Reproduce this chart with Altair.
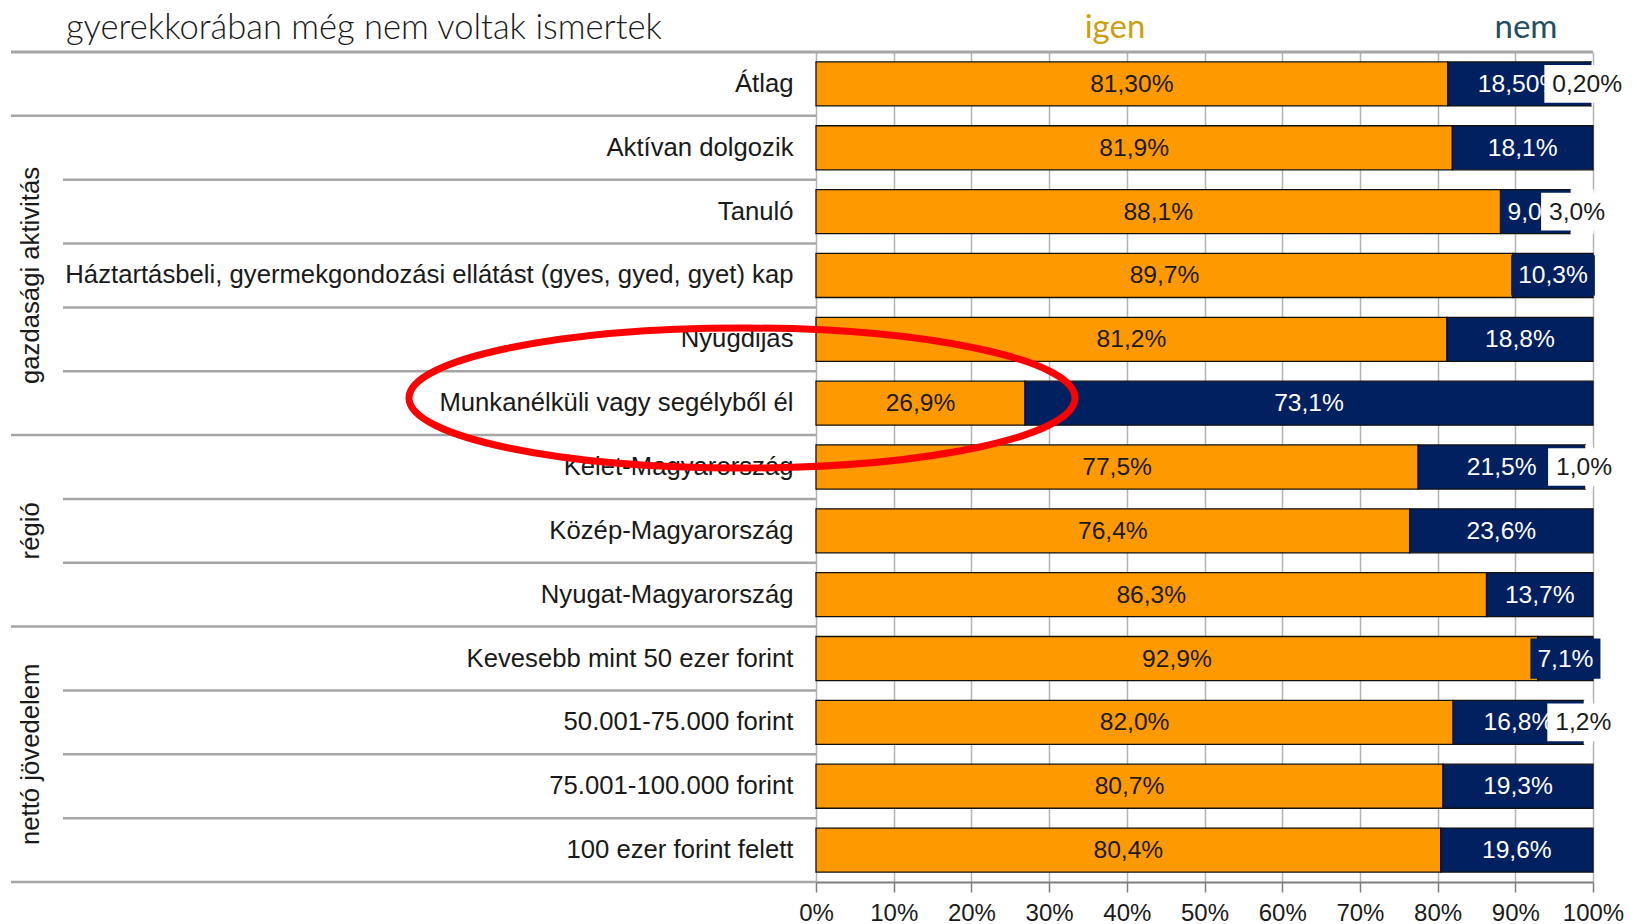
import altair as alt
import pandas as pd

# ---------------- data ----------------
categories = [
    "Átlag",
    "Aktívan dolgozik",
    "Tanuló",
    "Háztartásbeli, gyermekgondozási ellátást (gyes, gyed, gyet) kap",
    "Nyugdijas",
    "Munkanélküli vagy segélyből él",
    "Kelet-Magyarország",
    "Közép-Magyarország",
    "Nyugat-Magyarország",
    "Kevesebb mint 50 ezer forint",
    "50.001-75.000 forint",
    "75.001-100.000 forint",
    "100 ezer forint felett",
]
igen = [81.3, 81.9, 88.1, 89.7, 81.2, 26.9, 77.5, 76.4, 86.3, 92.9, 82.0, 80.7, 80.4]
nem = [18.5, 18.1, 9.0, 10.3, 18.8, 73.1, 21.5, 23.6, 13.7, 7.1, 16.8, 19.3, 19.6]
egyeb = [0.2, 0, 3.0, 0, 0, 0, 1.0, 0, 0, 0, 1.2, 0, 0]
decimals = [2, 1, 1, 1, 1, 1, 1, 1, 1, 1, 1, 1, 1]

group_names = ["gazdasági aktivitás", "régió", "nettó jövedelem"]
group_start = [1, 6, 9]
group_end = [6, 9, 13]
group_bounds = [0, 1, 6, 9, 13]

title_text = "gyerekkorában még nem voltak ismertek"
legend_labels = ["igen", "nem"]
x_ticks = [0, 10, 20, 30, 40, 50, 60, 70, 80, 90, 100]

# ---------------- styles ----------------
W, H = 777, 830
PX = W / 100.0
ORANGE = "#ff9900"
NAVY = "#002060"
GRAY = "#a6a6a6"
TXT = "#1a1a1a"
FONT = "Liberation Sans"
LFS = 24.6      # bar label font size
CFS = 25.7      # category label font size
CW = {**{d: 0.556 for d in "0123456789"}, ",": 0.278, "%": 0.889}


def fmt(v, d):
    return f"{v:.{d}f}".replace(".", ",") + "%"


def text_w(s):
    return sum(CW[c] for c in s) * LFS


rows = []
for i, c in enumerate(categories):
    a, b, e, d = igen[i], nem[i], egyeb[i], decimals[i]
    segs = [("igen", 0.0, a, a), ("nem", a, a + b, b)]
    if e > 0:
        segs.append(("egyeb", a + b, a + b + e, e))
    for s, x0, x1, v in segs:
        lab = fmt(v, d)
        mid = (x0 + x1) / 2
        w = text_w(lab)
        if s == "egyeb":
            tx = mid - 5 / PX
            half = (w / 2 + 8) / PX
        else:
            tx = mid
            half = (w / 2 + 7) / PX
        rows.append(dict(cat=c, seg=s, x0=x0, x1=x1, mid=mid, tx=tx,
                         bx0=tx - half, bx1=tx + half, label=lab))
seg = pd.DataFrame(rows)
main = seg[seg.seg != "egyeb"]
navy_df = seg[seg.seg == "nem"]
orange_df = seg[seg.seg == "igen"]
other_df = seg[seg.seg == "egyeb"]

xsc = alt.Scale(domain=[0, 100], nice=False, zero=False)
ysc = alt.Scale(domain=categories, paddingInner=0, paddingOuter=0)
psc = alt.Scale(domain=[0, 13], reverse=True, nice=False, zero=False)

x_axis = alt.Axis(values=x_ticks, labelExpr="datum.value + '%'", title=None,
                  grid=True, gridColor="#b4b4b4", gridWidth=1.5,
                  domain=True, domainColor="#7f7f7f", domainWidth=2,
                  ticks=True, tickColor="#7f7f7f", tickSize=10, tickWidth=1.5,
                  labelFontSize=24, labelFont=FONT, labelColor=TXT,
                  labelPadding=9, labelFlush=False, labelOverlap=False)
y_axis = alt.Axis(title=None, ticks=False, domain=False, labelFontSize=CFS,
                  labelFont=FONT, labelColor=TXT, labelPadding=23,
                  labelLimit=900)


def X(field, axis=None):
    if axis is None:
        return alt.X(field, scale=xsc, title=None)
    return alt.X(field, scale=xsc, axis=axis, title=None)


def Yc(axis=None):
    return alt.Y("cat:N", scale=ysc, axis=axis, title=None)


bars = alt.Chart(main).mark_bar(height={"band": 0.69}, stroke="#111111",
                                strokeWidth=1.3).encode(
    x=X("x0:Q", x_axis), x2="x1:Q", y=Yc(y_axis),
    color=alt.Color("seg:N", scale=alt.Scale(domain=["igen", "nem"],
                                             range=[ORANGE, NAVY]), legend=None),
)
bars_other = alt.Chart(other_df).mark_bar(height={"band": 0.69}, color="white",
                                          strokeWidth=0).encode(
    x=X("x0:Q"), x2="x1:Q", y=Yc())
navy_box = alt.Chart(navy_df).mark_bar(height={"band": 0.63}, color=NAVY,
                                       strokeWidth=0).encode(
    x=X("bx0:Q"), x2="bx1:Q", y=Yc())
navy_text = alt.Chart(navy_df).mark_text(color="white", fontSize=LFS, font=FONT,
                                         dy=1).encode(
    x=X("mid:Q"), y=Yc(), text="label:N")
white_box = alt.Chart(other_df).mark_bar(height={"band": 0.59}, color="white",
                                         strokeWidth=0).encode(
    x=X("bx0:Q"), x2="bx1:Q", y=Yc())
other_text = alt.Chart(other_df).mark_text(color=TXT, fontSize=LFS, font=FONT,
                                           dy=1).encode(
    x=X("tx:Q"), y=Yc(), text="label:N")
orange_text = alt.Chart(orange_df).mark_text(color=TXT, fontSize=LFS, font=FONT,
                                             dy=1).encode(
    x=X("mid:Q"), y=Yc(), text="label:N")

# row separators in the label area
bounds = pd.DataFrame({"pos": list(range(len(categories) + 1))})
bounds["long"] = bounds.pos.isin(group_bounds)
short_rules = alt.Chart(bounds[~bounds.long]).mark_rule(color=GRAY, strokeWidth=2.5).encode(
    y=alt.Y("pos:Q", scale=psc, axis=None), x=alt.value(-753), x2=alt.value(0))
long_rules = alt.Chart(bounds[bounds.long & (bounds.pos > 0)]).mark_rule(
    color=GRAY, strokeWidth=2.5).encode(
    y=alt.Y("pos:Q", scale=psc, axis=None), x=alt.value(-805), x2=alt.value(0))
top_rule = alt.Chart(bounds[bounds.pos == 0]).mark_rule(color=GRAY, strokeWidth=3).encode(
    y=alt.Y("pos:Q", scale=psc, axis=None), x=alt.value(-805), x2=alt.value(W))

groups = pd.DataFrame({"name": group_names,
                       "c": [(s + e) / 2 for s, e in zip(group_start, group_end)]})
group_text = alt.Chart(groups).mark_text(angle=270, fontSize=CFS, font=FONT,
                                         color=TXT).encode(
    y=alt.Y("c:Q", scale=psc, axis=None), x=alt.value(-785), text="name:N")

ellipse_path = "M-333,0A333,70,0,1,0,333,0A333,70,0,1,0,-333,0"
ellipse = alt.Chart(pd.DataFrame({"a": [0]})).mark_point(
    shape=ellipse_path, size=4, filled=False, stroke="#ff0000", strokeWidth=7,
    opacity=1).encode(x=alt.value(-74), y=alt.value(346))

title = alt.Chart(pd.DataFrame({"t": [title_text]})).mark_text(
    align="left", baseline="alphabetic", font="Lato", fontSize=34.5,
    fontWeight=300, color=TXT).encode(x=alt.value(-750), y=alt.value(-13), text="t:N")
leg_igen = alt.Chart(pd.DataFrame({"t": [legend_labels[0]]})).mark_text(
    align="center", baseline="alphabetic", font="Lato", fontSize=33,
    color="#cc9f10").encode(x=alt.value(299), y=alt.value(-14), text="t:N")
leg_nem = alt.Chart(pd.DataFrame({"t": [legend_labels[1]]})).mark_text(
    align="center", baseline="alphabetic", font="Lato", fontSize=33,
    color="#1f4f60").encode(x=alt.value(710), y=alt.value(-14), text="t:N")

chart = alt.layer(
    bars, bars_other, navy_box, navy_text, white_box, other_text, orange_text,
    short_rules, long_rules, top_rule, group_text, ellipse, title, leg_igen, leg_nem,
).resolve_scale(y="independent").properties(
    width=W, height=H,
    padding={"left": 808, "top": 44, "right": 36, "bottom": 42},
    autosize=alt.AutoSizeParams(type="none"),
).configure_view(stroke=None).configure(background="white")

chart.save("out.html", embed_options={"renderer": "svg", "actions": False})
